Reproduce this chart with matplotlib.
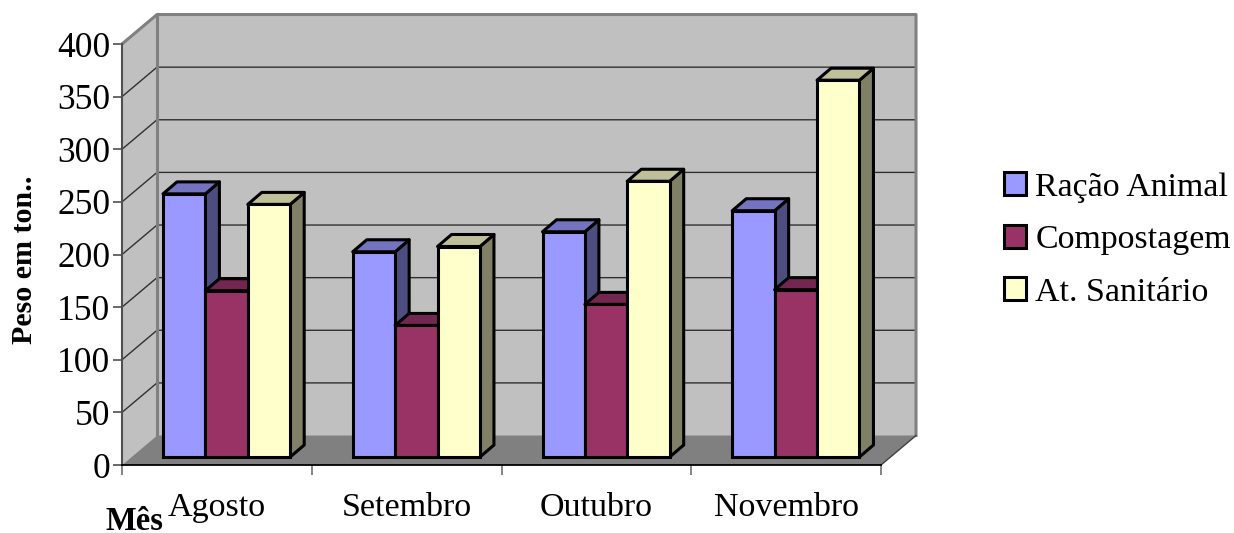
import matplotlib
matplotlib.use('Agg')
from matplotlib import pyplot as plt
from matplotlib.patches import Patch

plt.rcParams['font.family'] = ['Liberation Serif', 'DejaVu Serif']

meses = ['Agosto', 'Setembro', 'Outubro', 'Novembro']
series = ['Ração Animal', 'Compostagem', 'At. Sanitário']
racao = [250, 195, 214, 234]
compostagem = [158, 125, 145, 159]
sanitario = [240, 200, 262, 358]
y_ticks = [0, 50, 100, 150, 200, 250, 300, 350, 400]

front = ['#9999FF', '#993366', '#FFFFCC']
side = ['#4D4D80', '#4D1A33', '#808066']
top = ['#7373BF', '#732650', '#BFBF99']

W, H = 1234, 533
fig = plt.figure(figsize=(W / 100, H / 100), dpi=100, facecolor='white')
ax = fig.add_axes([122 / W, (H - 465) / H, 759 / W, 421 / H])
ax.set_xlim(0, 4)
ax.set_ylim(0, 400)
ax.patch.set_visible(False)

# fake 3d depth, in data units
wall_dx = 35 / 189.75
wall_dy = 28.0
bar_dx = 14 / 189.75
bar_dy = 11.4
base = 7.6
bar_w = 42.4 / 189.75
first = 41 / 189.75

# walls and floor
ax.fill([0, wall_dx, wall_dx, 0], [0, wall_dy, 400 + wall_dy, 400], fc='#C0C0C0', ec='none', zorder=1, clip_on=False)
ax.fill([wall_dx, 4 + wall_dx, 4 + wall_dx, wall_dx], [wall_dy, wall_dy, 400 + wall_dy, 400 + wall_dy],
        fc='#C0C0C0', ec='none', zorder=1, clip_on=False)
ax.fill([0, 4, 4 + wall_dx, wall_dx], [0, 0, wall_dy, wall_dy], fc='#808080', ec='none', zorder=1, clip_on=False)

for t in y_ticks[1:-1]:
    ax.plot([0, wall_dx, 4 + wall_dx], [t, t + wall_dy, t + wall_dy], color='#303030', lw=1.0, zorder=2, clip_on=False)

# grey border of the walls
ax.plot([0, wall_dx, 4 + wall_dx, 4 + wall_dx], [400, 400 + wall_dy, 400 + wall_dy, wall_dy],
        color='#808080', lw=2.2, zorder=2, clip_on=False)
ax.plot([wall_dx, wall_dx], [wall_dy, 400 + wall_dy], color='#808080', lw=2.2, zorder=2, clip_on=False)
ax.plot([4, 4 + wall_dx], [0, wall_dy], color='#404040', lw=1.0, zorder=2, clip_on=False)

# bars, left to right so each one covers the side of the previous
z = 3
for i, valores in enumerate(zip(racao, compostagem, sanitario)):
    for j, v in enumerate(valores):
        x0 = i + first + j * bar_w
        x1 = x0 + bar_w
        y0 = base
        y1 = base + v
        edge = dict(ec='black', lw=2.2, joinstyle='round', zorder=z, clip_on=False)
        ax.fill([x1, x1 + bar_dx, x1 + bar_dx, x1], [y0, y0 + bar_dy, y1 + bar_dy, y1], fc=side[j], **edge)
        ax.fill([x0, x0 + bar_dx, x1 + bar_dx, x1], [y1, y1 + bar_dy, y1 + bar_dy, y1], fc=top[j], **edge)
        ax.bar(x0, v, width=bar_w, bottom=base, align='edge', color=front[j], edgecolor='black',
               linewidth=2.2, zorder=z, clip_on=False)
        z += 1

# axes
for s in ['top', 'right']:
    ax.spines[s].set_visible(False)
ax.spines['left'].set_color('#505050')
ax.spines['left'].set_linewidth(1.5)
ax.spines['bottom'].set_color('black')
ax.spines['bottom'].set_linewidth(1.3)

ax.set_yticks(y_ticks)
ax.set_yticklabels([str(t) for t in y_ticks], fontsize=25.5)
ax.tick_params(axis='y', length=6.5, width=1.2, color='#505050', pad=2)

ax.set_xticks([0, 1, 2, 3, 4])
ax.set_xticklabels([])
ax.tick_params(axis='x', which='major', length=7, width=1.2, color='#707070')
ax.set_xticks([0.5, 1.5, 2.5, 3.5], minor=True)
ax.set_xticklabels(meses, minor=True, fontsize=24.5)
ax.tick_params(axis='x', which='minor', length=0, pad=20)

fig.text(24 / W, 1 - 260 / H, 'Peso em ton..', rotation=90, fontsize=21.6, fontweight='bold', ha='center', va='center')
fig.text(105 / W, 1 - 530 / H, 'Mês', fontsize=23.5, fontweight='bold', ha='left', va='baseline')

handles = [Patch(facecolor=front[k], edgecolor='black', linewidth=2.2) for k in range(3)]
fig.legend(handles, series, loc='center left', bbox_to_anchor=(1004 / W, 1 - 240 / H), frameon=False, fontsize=24.4,
           handlelength=0.66, handleheight=0.66, handletextpad=0.26, labelspacing=0.65, borderpad=0, borderaxespad=0)

fig.savefig('out.png', dpi=100)
